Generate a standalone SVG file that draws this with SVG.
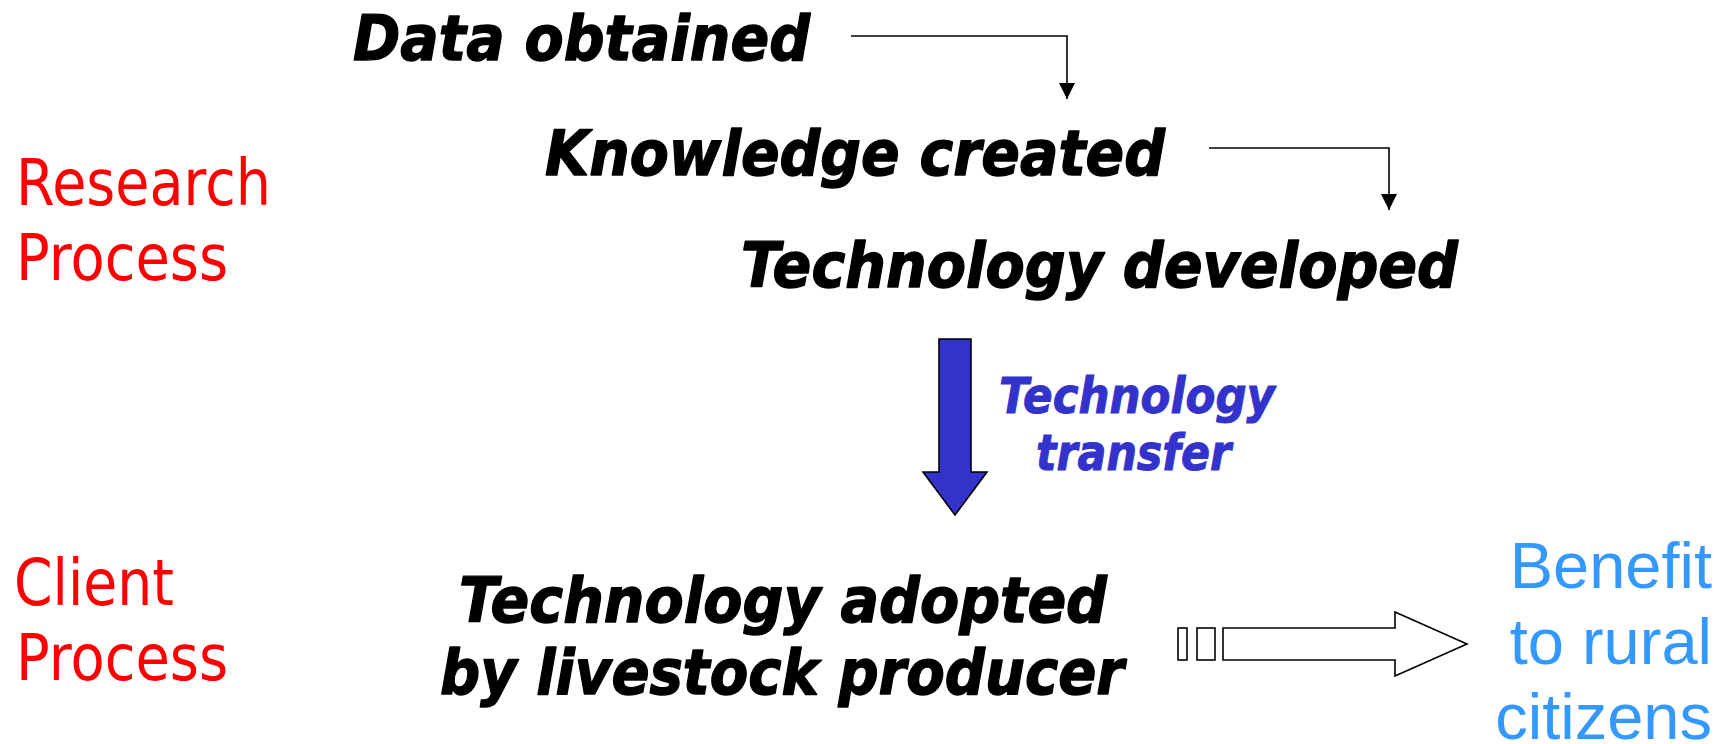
<svg xmlns="http://www.w3.org/2000/svg" width="1724" height="744" viewBox="0 0 1724 744">
  <style>
    .step { font-family: "DejaVu Sans", Verdana, sans-serif; font-weight: bold; font-style: italic; font-size: 62px; fill: #000; stroke: #000; stroke-width: 1.4; stroke-linejoin: round; }
    .transfer { font-family: "DejaVu Sans", Verdana, sans-serif; font-weight: bold; font-style: italic; font-size: 49px; fill: #3333CC; stroke: #3333CC; stroke-width: 1; stroke-linejoin: round; }
    .phase { font-family: "DejaVu Sans", Tahoma, sans-serif; font-size: 64px; fill: #FF0000; }
    .benefit { font-family: "Liberation Sans", Arial, sans-serif; font-size: 65px; fill: #3399FF; }
    .link { fill: none; stroke: #000; stroke-width: 1.6; }
    .outline { fill: #fff; stroke: #000; stroke-width: 1.6; }
  </style>
  <defs>
    <marker id="tip" viewBox="0 0 16 16" refX="16" refY="8" markerWidth="16" markerHeight="16" markerUnits="userSpaceOnUse" orient="auto">
      <path d="M0,0 L16,8 L0,16 Z" fill="#000"/>
    </marker>
  </defs>

  <rect width="1724" height="744" fill="#fff"/>

  <!-- phase labels -->
  <g id="research-process">
    <text class="phase" x="16" y="205" textLength="255" lengthAdjust="spacingAndGlyphs">Research</text>
    <text class="phase" x="16" y="280" textLength="212" lengthAdjust="spacingAndGlyphs">Process</text>
  </g>
  <g id="client-process">
    <text class="phase" x="14" y="605" textLength="160" lengthAdjust="spacingAndGlyphs">Client</text>
    <text class="phase" x="16" y="680" textLength="212" lengthAdjust="spacingAndGlyphs">Process</text>
  </g>

  <!-- research steps -->
  <g id="data-obtained">
    <text class="step" x="353" y="60" textLength="457" lengthAdjust="spacingAndGlyphs">Data obtained</text>
  </g>
  <g id="knowledge-created">
    <text class="step" x="545" y="175" textLength="620" lengthAdjust="spacingAndGlyphs">Knowledge created</text>
  </g>
  <g id="technology-developed">
    <text class="step" x="741" y="287" textLength="717" lengthAdjust="spacingAndGlyphs">Technology developed</text>
  </g>

  <!-- transfer to the client -->
  <g id="technology-transfer">
    <polygon points="939,339 971,339 971,472 987,472 955,515 923,472 939,472" fill="#3333CC" stroke="#000" stroke-width="1.6" stroke-linejoin="miter"/>
    <text class="transfer" x="999" y="413" textLength="276" lengthAdjust="spacingAndGlyphs">Technology</text>
    <text class="transfer" x="1036" y="470" textLength="195" lengthAdjust="spacingAndGlyphs">transfer</text>
  </g>

  <g id="technology-adopted">
    <text class="step" x="783" y="622" text-anchor="middle" textLength="648" lengthAdjust="spacingAndGlyphs">Technology adopted</text>
    <text class="step" x="782" y="694" text-anchor="middle" textLength="684" lengthAdjust="spacingAndGlyphs">by livestock producer</text>
  </g>

  <g id="benefit">
    <text class="benefit" x="1712" y="588" text-anchor="end">Benefit</text>
    <text class="benefit" x="1712" y="664" text-anchor="end">to rural</text>
    <text class="benefit" x="1712" y="739" text-anchor="end">citizens</text>
  </g>

  <!-- connectors -->
  <g id="connectors">
    <path class="link" d="M851,36 H1067 V99" marker-end="url(#tip)"/>
    <path class="link" d="M1209,148 H1389 V210" marker-end="url(#tip)"/>
    <g id="benefit-arrow">
      <rect class="outline" x="1178" y="628" width="9" height="32"/>
      <rect class="outline" x="1197" y="628" width="18" height="32"/>
      <polygon class="outline" points="1223,628 1395,628 1395,612 1467,644 1395,676 1395,660 1223,660"/>
    </g>
  </g>
</svg>
